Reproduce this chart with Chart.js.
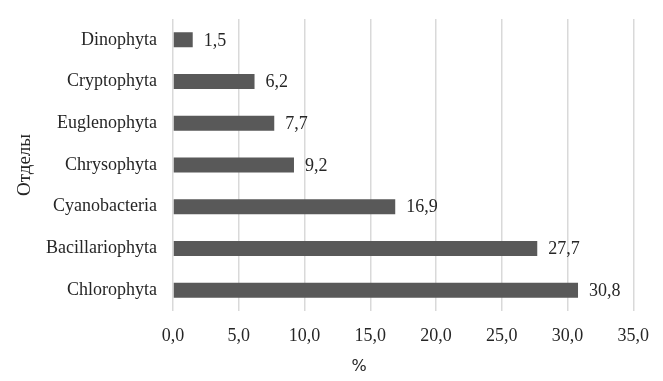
<!DOCTYPE html>
<html>
<head>
<meta charset="utf-8">
<script src="https://cdn.jsdelivr.net/npm/chart.js@4"></script>
<style>
  html, body { margin: 0; padding: 0; background: #fff; }
  #wrap { width: 663px; height: 381px; }
</style>
</head>
<body>
<div id="wrap"><canvas id="chart" width="663" height="381"></canvas></div>
<script>
// data
const divisions = ['Dinophyta', 'Cryptophyta', 'Euglenophyta', 'Chrysophyta', 'Cyanobacteria', 'Bacillariophyta', 'Chlorophyta'];
const shares = [1.5, 6.2, 7.7, 9.2, 16.9, 27.7, 30.8];
const xTicks = [0, 5, 10, 15, 20, 25, 30, 35];

const serif = '"Liberation Serif", "Times New Roman", serif';
const textColor = '#262626';

function comma(v, d) {
    return v.toFixed(d).replace('.', ',');
}

// values next to bars + axis titles
const labelsPlugin = {
    id: 'barLabels',
    afterDatasetsDraw(chart) {
        const ctx = chart.ctx;
        const meta = chart.getDatasetMeta(0);
        ctx.save();
        ctx.font = '18px ' + serif;
        ctx.fillStyle = textColor;
        ctx.textBaseline = 'middle';
        ctx.textAlign = 'left';
        meta.data.forEach((bar, i) => {
            ctx.fillText(comma(shares[i], 1), bar.x + 11, bar.y + 1);
        });

        ctx.font = '16px "DejaVu Sans", sans-serif';
        ctx.textAlign = 'center';
        ctx.fillText('%', 359, 367);

        ctx.translate(25, chart.chartArea.top + (chart.chartArea.bottom - chart.chartArea.top) / 2);
        ctx.rotate(-Math.PI / 2);
        ctx.font = '19px ' + serif;
        ctx.fillText('Отделы', 0, 0);
        ctx.restore();
    }
};

new Chart(document.getElementById('chart').getContext('2d'), {
    type: 'bar',
    data: {
        labels: divisions,
        datasets: [{
            data: shares,
            backgroundColor: '#595959',
            categoryPercentage: 1,
            barPercentage: 0.36
        }]
    },
    options: {
        indexAxis: 'y',
        responsive: false,
        animation: false,
        layout: { padding: { top: 19, right: 24, bottom: 0, left: 0 } },
        plugins: {
            legend: { display: false },
            tooltip: { enabled: false }
        },
        scales: {
            x: {
                min: 0,
                max: 35,
                afterBuildTicks: (scale) => { scale.ticks = xTicks.map(v => ({ value: v })); },
                afterFit: (scale) => { scale.height = 70; },
                grid: { color: '#d9d9d9', lineWidth: 1.5, drawTicks: false },
                border: { display: false },
                ticks: {
                    padding: 14,
                    color: textColor,
                    font: { family: serif, size: 18 },
                    callback: (v) => comma(v, 1)
                }
            },
            y: {
                afterFit: (scale) => { scale.width = 173; },
                grid: { display: false, drawTicks: true, tickLength: 16 },
                border: { display: false },
                ticks: {
                    padding: 0,
                    color: textColor,
                    font: { family: serif, size: 18 }
                }
            }
        }
    },
    plugins: [labelsPlugin]
});
</script>
</body>
</html>
